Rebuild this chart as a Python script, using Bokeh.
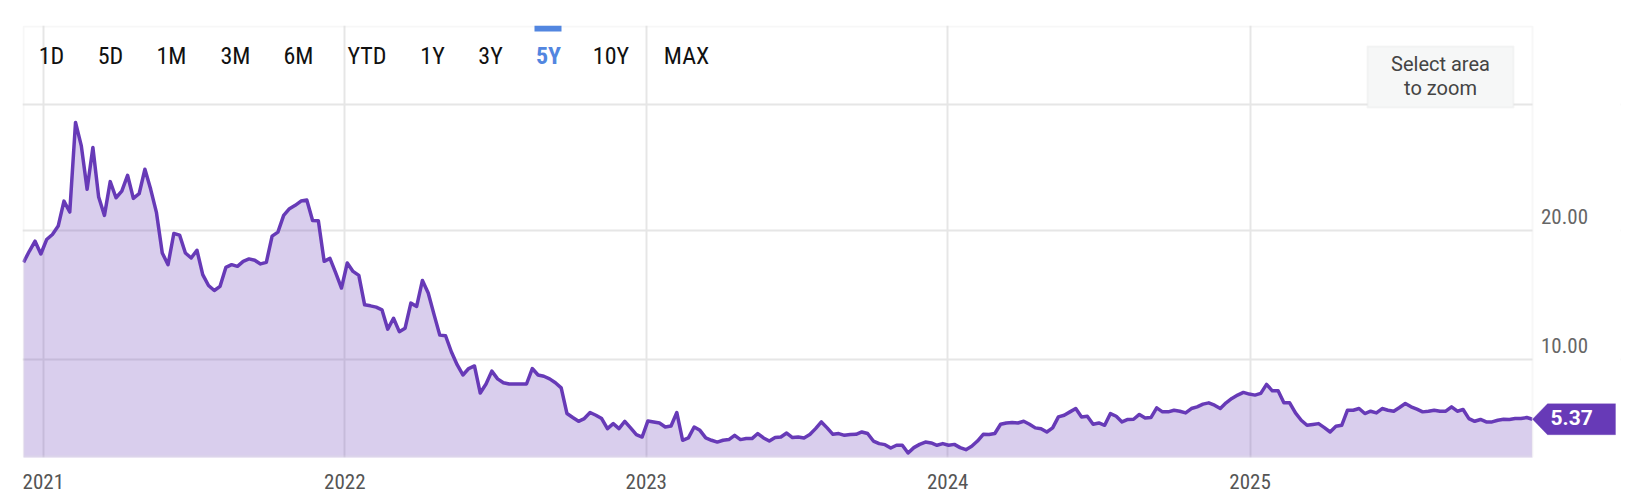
import pandas as pd
from bokeh.plotting import figure
from bokeh.models import (FixedTicker, DatetimeTickFormatter, Label, PolyAnnotation,
                          BoxAnnotation, Span, Range1d)
from bokeh.embed import file_html
from bokeh.resources import INLINE

# ---------------- data ----------------
start_date = "2020-12-08"          # weekly observations
week_values = [
    17.53, 18.39, 19.17, 18.18, 19.30, 19.69, 20.34, 22.28, 21.43, 28.38,
    26.56, 23.19, 26.43, 22.59, 21.17, 23.79, 22.54, 23.06, 24.28, 22.49,
    22.85, 24.75, 23.19, 21.38, 18.26, 17.35, 19.77, 19.64, 18.26, 17.87,
    18.47, 16.58, 15.74, 15.35, 15.67, 17.14, 17.35, 17.22, 17.61, 17.80,
    17.69, 17.41, 17.53, 19.56, 19.87, 21.17, 21.69, 21.95, 22.28, 22.36,
    20.78, 20.75, 17.61, 17.84, 16.71, 15.54, 17.48, 16.83, 16.52, 14.24,
    14.16, 14.06, 13.85, 12.35, 13.20, 12.16, 12.43, 14.37, 14.11, 16.13,
    15.15, 13.50, 11.89, 11.84, 10.60, 9.60, 8.80, 9.30, 9.50, 7.40,
    8.10, 9.10, 8.50, 8.20, 8.10, 8.10, 8.10, 8.10, 9.30, 8.80,
    8.70, 8.50, 8.20, 7.80, 5.81, 5.50, 5.21, 5.42, 5.89, 5.68,
    5.42, 4.64, 5.03, 4.64, 5.21, 4.70, 4.18, 3.99, 5.24, 5.16,
    5.08, 4.77, 4.85, 5.89, 3.74, 3.92, 4.77, 4.51, 3.92, 3.74,
    3.60, 3.74, 3.79, 4.12, 3.79, 3.87, 3.87, 4.26, 3.92, 3.68,
    3.95, 3.99, 4.30, 3.95, 3.99, 3.92, 4.18, 4.64, 5.16, 4.70,
    4.20, 4.26, 4.12, 4.18, 4.20, 4.38, 4.26, 3.68, 3.48, 3.40,
    3.14, 3.35, 3.35, 2.75, 3.17, 3.42, 3.60, 3.53, 3.35, 3.48,
    3.35, 3.42, 3.17, 3.01, 3.27, 3.68, 4.20, 4.18, 4.26, 4.98,
    5.08, 5.11, 5.08, 5.21, 4.98, 4.70, 4.64, 4.38, 4.70, 5.55,
    5.68, 5.94, 6.20, 5.55, 5.60, 4.98, 5.08, 4.90, 5.81, 5.60,
    5.16, 5.35, 5.37, 5.74, 5.47, 5.50, 6.25, 5.94, 5.94, 6.07,
    5.99, 5.86, 6.20, 6.33, 6.54, 6.64, 6.46, 6.20, 6.64, 6.98,
    7.24, 7.45, 7.32, 7.24, 7.37, 8.07, 7.57, 7.57, 6.64, 6.64,
    5.86, 5.29, 4.90, 4.96, 5.03, 4.72, 4.38, 4.82, 4.90, 6.07,
    6.07, 6.20, 5.81, 5.99, 5.86, 6.20, 6.07, 5.99, 6.28, 6.59,
    6.33, 6.15, 5.94, 5.99, 6.07, 5.99, 5.99, 6.33, 5.99, 6.12,
    5.42, 5.21, 5.35, 5.16, 5.16, 5.29, 5.37, 5.35, 5.42, 5.42,
    5.50, 5.37,
]
year_ticks = [2021, 2022, 2023, 2024, 2025]
price_ticks = [10, 20]
range_buttons = ["1D", "5D", "1M", "3M", "6M", "YTD", "1Y", "3Y", "5Y", "10Y", "MAX"]
active_button = "5Y"
zoom_hint = ["Select area", "to zoom"]

# ---------------- layout / style (page pixels) ----------------
button_centers = [51, 110, 171, 235, 298, 366.5, 432, 490, 548, 610.5, 686]
DATA_L, DATA_T, DATA_R, DATA_B = 23, 26, 1532, 456    # chart rectangle
CANVAS_R = 1620                                       # frame extends to here (labels area)
FL, FT, FB = DATA_L - 1, DATA_T - 1, DATA_B + 1       # actual frame edges
PX_PER_UNIT = 12.9
BASE_SHIFT = 0.42        # em: alphabetic-baseline correction of the text box
PURPLE = "#673ab7"
GRID = "#e6e6e6"
COND = "Roboto Condensed"

def sx(px):   # page x -> frame-relative screen x
    return px - FL

def sy(py):   # page y -> frame-relative screen y (up)
    return FB - py

dates = pd.date_range(start_date, periods=len(week_values), freq="7D")
last_value = week_values[-1]

# value scale: 10 at page y 359, 20 at 230
y_at_bottom = 10 - (DATA_B - 359) / PX_PER_UNIT
y_at_top = 20 + (230 - DATA_T) / PX_PER_UNIT
y_range = Range1d(y_at_bottom - 1 / PX_PER_UNIT, y_at_top + 1 / PX_PER_UNIT)

span = dates[-1] - dates[0]
px_per_td = (DATA_R - DATA_L) / span.total_seconds()
x_start = dates[0] - pd.Timedelta(seconds=1 / px_per_td)
x_end = dates[0] + pd.Timedelta(seconds=(CANVAS_R - DATA_L) / px_per_td)

frame_w = CANVAS_R - FL
frame_h = FB - FT

p = figure(x_axis_type="datetime", y_axis_location=None,
           x_range=Range1d(x_start, x_end), y_range=y_range,
           frame_width=frame_w, frame_height=frame_h,
           min_border_left=FL, min_border_top=FT,
           min_border_right=2, min_border_bottom=40,
           output_backend="svg", toolbar_location=None,
           background_fill_color="white", border_fill_color="white")
p.outline_line_color = None

# grids
p.xgrid.grid_line_color = GRID
p.xgrid.grid_line_width = 2
p.ygrid.ticker = FixedTicker(ticks=price_ticks)
p.ygrid.grid_line_color = GRID
p.ygrid.grid_line_width = 2

# x axis
ax = p.xaxis[0]
ax.ticker = FixedTicker(ticks=[pd.Timestamp(f"{y}-01-01").value / 1e6 for y in year_ticks])
ax.formatter = DatetimeTickFormatter(years="%Y", months="%Y", days="%Y")
ax.axis_line_color = None
ax.major_tick_line_color = None
ax.minor_tick_line_color = None
ax.major_label_standoff = 10
ax.major_label_text_font = COND
ax.major_label_text_font_size = "21px"
ax.major_label_text_color = "#555555"

# data
p.varea(x=dates, y1=0, y2=week_values, fill_color=PURPLE, fill_alpha=0.25)
p.line(x=dates, y=week_values, line_color=PURPLE, line_width=3.5, line_join="round")

# separator below range selector
p.add_layout(Span(location=sy(104), location_units="screen", dimension="width",
                  line_color=GRID, line_width=2))

# white area right of the chart (label column) and chart border
p.add_layout(BoxAnnotation(left=dates[-1], fill_color="white", fill_alpha=1, line_color=None))
p.add_layout(BoxAnnotation(left=dates[0], right=dates[-1], bottom=y_at_bottom, top=y_at_top,
                           fill_alpha=0, line_color=GRID, line_width=2))

# y tick labels (right side, above grid lines)
for t in price_ticks:
    p.add_layout(Label(x=sx(1540.5), x_units="screen", y=t, y_units="data",
                       text=f"{t:.2f}", text_align="left", text_baseline="alphabetic",
                       y_offset=5 + BASE_SHIFT * 21, text_font=COND, text_font_size="21px",
                       text_color="#666666"))

# last value marker
half = 15.5 / PX_PER_UNIT
p.add_layout(PolyAnnotation(
    xs=[sx(DATA_R), sx(1547), sx(1615), sx(1615), sx(1547)], xs_units="screen",
    ys=[last_value, last_value + half, last_value + half, last_value - half, last_value - half],
    ys_units="data", fill_color=PURPLE, fill_alpha=1, line_color=PURPLE, line_width=1))
p.add_layout(Label(x=sx(1550), x_units="screen", y=last_value, y_units="data",
                   text=f"{last_value:.2f}", text_align="left", text_baseline="middle",
                   y_offset=2, text_font="Roboto", text_font_style="bold",
                   text_font_size="21px", text_color="white"))

# range selector
for name, cx in zip(range_buttons, button_centers):
    active = name == active_button
    p.add_layout(Label(x=sx(cx), x_units="screen", y=sy(66), y_units="screen",
                       y_offset=BASE_SHIFT * 24,
                       text=name, text_align="center", text_baseline="alphabetic",
                       text_font=COND, text_font_size="24px",
                       text_font_style="bold" if active else "normal",
                       text_color="#5286e0" if active else "#111111"))
    if active:
        p.add_layout(BoxAnnotation(left=sx(534), right=sx(561), top=sy(25), bottom=sy(31),
                                   left_units="screen", right_units="screen",
                                   top_units="screen", bottom_units="screen",
                                   fill_color="#5286e0", fill_alpha=1, line_color=None))

# zoom hint box
p.add_layout(BoxAnnotation(left=sx(1367), right=sx(1513), top=sy(46), bottom=sy(107),
                           left_units="screen", right_units="screen",
                           top_units="screen", bottom_units="screen",
                           fill_color="#f6f7f7", fill_alpha=1,
                           line_color="#e2e2e2", line_width=2))
for txt, base in zip(zoom_hint, [71.5, 95.5]):
    p.add_layout(Label(x=sx(1440), x_units="screen", y=sy(base), y_units="screen",
                       y_offset=BASE_SHIFT * 20,
                       text=txt, text_align="center", text_baseline="alphabetic",
                       text_font="Roboto", text_font_size="20px", text_color="#444444"))

open("out.html", "w").write(file_html(p, INLINE))
